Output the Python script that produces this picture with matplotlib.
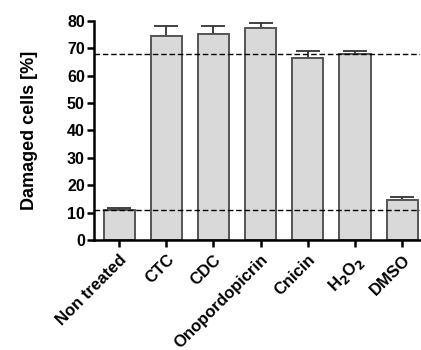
import matplotlib
matplotlib.use("Agg")
import matplotlib.pyplot as plt
import numpy as np

plt.rcParams['font.family'] = ['Liberation Sans', 'DejaVu Sans']
plt.rcParams['font.weight'] = 'bold'
plt.rcParams['mathtext.default'] = 'bf'

labels = ['Non treated', 'CTC', 'CDC', 'Onopordopicrin', 'Cnicin',
          r'H$_2$O$_2$', 'DMSO']
values = [11.0, 74.3, 75.2, 77.3, 66.3, 68.0, 14.8]
errors = [0.8, 3.6, 3.0, 1.9, 2.7, 1.0, 1.0]
ref_lines = [11.1, 68.0]

fig = plt.figure(figsize=(4.21, 3.5), dpi=100)
ax = fig.add_axes([0.223, 0.314, 0.775, 0.627])

x = np.arange(len(values))
ax.bar(x, values, width=0.66, color='#d9d9d9', edgecolor='#555555',
       linewidth=1.4, zorder=2)
ax.errorbar(x, values, yerr=[np.zeros(len(errors)), errors], fmt='none',
            ecolor='#333333', elinewidth=1.3, capsize=8.5, capthick=1.3,
            zorder=1)
for v in ref_lines:
    ax.axhline(v, color='black', linestyle=(0, (4, 2)), linewidth=1.0,
               zorder=3)

ax.set_xlim(-0.535, 6.38)
ax.set_ylim(0, 80)
ax.set_yticks(np.arange(0, 81, 10))
ax.set_xticks(x)
ax.set_xticklabels(labels, rotation=45, ha='right', rotation_mode='anchor',
                   fontsize=12, fontweight='bold')
ax.tick_params(axis='y', labelsize=11.5, width=1.8, length=5, pad=1.5)
ax.tick_params(axis='x', width=1.8, length=5, pad=3.5)
for lab in ax.get_yticklabels():
    lab.set_fontweight('bold')
ax.set_ylabel('Damaged cells [%]', fontsize=13, fontweight='bold',
              labelpad=21)

ax.spines['top'].set_visible(False)
ax.spines['right'].set_visible(False)
ax.spines['left'].set_linewidth(1.8)
ax.spines['bottom'].set_linewidth(1.8)

fig.savefig('out.png', dpi=100)
